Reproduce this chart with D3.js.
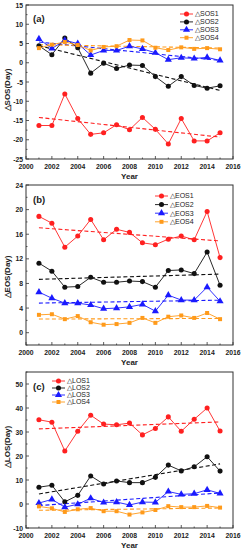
<!DOCTYPE html>
<html>
<head>
<meta charset="UTF-8" />
<style>
    body { margin: 0; background: #fff; }
    svg text { font-family: "Liberation Sans", Arial, sans-serif; }
    .tick-label { font-size: 6.8px; font-weight: bold; fill: #222; }
    .axis-title { font-size: 8px; font-weight: bold; fill: #222; }
    .legend-text { font-size: 7px; fill: #222; }
</style>
</head>
<body>
<div id="chart"></div>
<script src="https://d3js.org/d3.v7.min.js"></script>
<script>
    const years = d3.range(2001, 2016);
    const xTicks = [2000, 2002, 2004, 2006, 2008, 2010, 2012, 2014, 2016];

    // panel (a)
    const sos1 = [-16.3, -16.3, -8.1, -14.5, -18.6, -18.2, -16.1, -17.4, -14.2, -17.3, -21.1, -14.5, -20.3, -20.3, -18.2];
    const sos2 = [4.4, 2.1, 6.4, 3.9, -2.7, -0.1, -1.5, -0.6, -0.7, -3.6, -6.1, -3.6, -5.9, -6.6, -6.0];
    const sos3 = [6.2, 3.7, 5.8, 5.0, 2.0, 3.2, 3.2, 4.3, 3.6, 2.6, 0.8, 1.3, 1.1, 1.4, 0.6];
    const sos4 = [3.8, 4.7, 5.4, 4.6, 3.2, 4.1, 4.3, 5.9, 5.8, 3.9, 3.3, 4.0, 3.6, 3.8, 3.5];
    const sosTicks = [-25, -20, -15, -10, -5, 0, 5, 10, 15];

    // panel (b)
    const eos1 = [18.9, 17.8, 13.9, 15.7, 18.4, 15.1, 16.8, 16.3, 14.6, 14.3, 15.2, 15.7, 15.1, 19.7, 12.2];
    const eos2 = [11.3, 10.0, 7.4, 7.5, 9.0, 8.2, 8.2, 8.4, 8.3, 7.4, 10.1, 10.2, 9.6, 13.1, 7.7];
    const eos3 = [6.6, 5.6, 4.8, 4.8, 4.5, 3.9, 4.0, 4.2, 4.6, 3.5, 6.1, 5.3, 5.3, 7.4, 5.1];
    const eos4 = [2.9, 3.0, 2.2, 2.7, 1.7, 1.3, 1.4, 1.6, 2.4, 1.6, 2.6, 2.8, 2.4, 3.2, 2.2];
    const eosTicks = [0, 4, 8, 12, 16, 20, 24];

    // panel (c)
    const los1 = [35.1, 34.1, 22.1, 30.3, 37.0, 33.3, 33.0, 33.7, 28.8, 31.5, 36.3, 30.3, 35.3, 40.0, 30.4];
    const los2 = [7.0, 7.8, 0.9, 3.6, 11.7, 8.3, 9.6, 8.9, 8.9, 11.1, 16.2, 13.8, 15.5, 19.7, 13.7];
    const los3 = [0.4, 1.9, -1.3, -0.1, 2.4, 0.6, 0.8, -0.4, 0.8, 0.7, 5.2, 4.0, 4.3, 5.9, 4.4];
    const los4 = [-1.0, -1.8, -3.3, -2.2, -1.7, -3.0, -3.0, -4.4, -3.5, -2.5, -0.9, -1.3, -1.3, -0.8, -1.5];
    const losTicks = [-10, 0, 10, 20, 30, 40, 50];

    const colors = ['#ff2020', '#111111', '#1a1aff', '#ff9a1a'];
    const shapes = [d3.symbolCircle, d3.symbolCircle, d3.symbolTriangle, d3.symbolSquare];
    const shapeSize = [20, 20, 22, 16];

    const svg = d3.select('#chart').append('svg')
        .attr('width', 244)
        .attr('height', 550);

    const panels = [
        { tag: '(a)', name: 'SOS', series: [sos1, sos2, sos3, sos4], ticks: sosTicks, domain: [-25, 15],
          top: 5, bottom: 159, titleY: 90, legend: { x: 180, y: 14, dy: 7.9 }, labelY: 19 },
        { tag: '(b)', name: 'EOS', series: [eos1, eos2, eos3, eos4], ticks: eosTicks, domain: [-2, 24],
          top: 185, bottom: 345, titleY: 277, legend: { x: 155, y: 196, dy: 8.6 }, labelY: 200 },
        { tag: '(c)', name: 'LOS', series: [los1, los2, los3, los4], ticks: losTicks, domain: [-10, 55],
          top: 372, bottom: 528, titleY: 447, legend: { x: 52, y: 381, dy: 7 }, labelY: 387 }
    ];

    const left = 26, right = 233;

    // least-squares trend of a series against the years
    function fit(vals) {
        const mx = d3.mean(years), my = d3.mean(vals);
        const b = d3.sum(years, (yr, i) => (yr - mx) * (vals[i] - my)) / d3.sum(years, yr => (yr - mx) ** 2);
        return yr => my + b * (yr - mx);
    }

    panels.forEach(p => {
        const x = d3.scaleLinear().domain([2000, 2016]).range([left, right]);
        const y = d3.scaleLinear().domain(p.domain).range([p.bottom, p.top]);
        const g = svg.append('g');

        g.append('rect')
            .attr('x', left).attr('y', p.top)
            .attr('width', right - left).attr('height', p.bottom - p.top)
            .attr('fill', 'none').attr('stroke', '#333').attr('stroke-width', 1);

        // x ticks point inward, minor on odd years
        d3.range(2000, 2017).forEach(yr => {
            const major = yr % 2 === 0;
            g.append('line')
                .attr('x1', x(yr)).attr('x2', x(yr))
                .attr('y1', p.bottom).attr('y2', p.bottom - (major ? 3 : 1.5))
                .attr('stroke', '#333').attr('stroke-width', 0.8);
        });
        xTicks.forEach(yr => {
            g.append('text').attr('class', 'tick-label')
                .attr('x', x(yr)).attr('y', p.bottom + 9.5)
                .attr('text-anchor', 'middle').text(yr);
        });

        const step = p.ticks[1] - p.ticks[0];
        d3.range(p.domain[0], p.domain[1] + 0.001, step / 2).forEach(v => {
            const major = p.ticks.includes(v);
            g.append('line')
                .attr('x1', left).attr('x2', left + (major ? 3 : 1.5))
                .attr('y1', y(v)).attr('y2', y(v))
                .attr('stroke', '#333').attr('stroke-width', 0.8);
        });
        p.ticks.forEach(v => {
            g.append('text').attr('class', 'tick-label')
                .attr('x', left - 3).attr('y', y(v) + 2.5)
                .attr('text-anchor', 'end').text(v);
        });

        g.append('text').attr('class', 'axis-title')
            .attr('x', (left + right) / 2).attr('y', p.bottom + 20)
            .attr('text-anchor', 'middle').text('Year');

        g.append('text').attr('class', 'axis-title')
            .attr('transform', `translate(9.5,${p.titleY}) rotate(-90)`)
            .attr('text-anchor', 'middle').style('font-size', '8px')
            .text('\u25B3' + p.name + '(Day)');

        g.append('text').attr('class', 'axis-title')
            .attr('x', 33).attr('y', p.labelY + 3)
            .style('font-size', '9.5px').text(p.tag);

        const line = d3.line().x((d, i) => x(years[i])).y(d => y(d));

        p.series.forEach((vals, k) => {
            const f = fit(vals);
            g.append('line')
                .attr('x1', x(2001)).attr('x2', x(2015))
                .attr('y1', y(f(2001))).attr('y2', y(f(2015)))
                .attr('stroke', colors[k]).attr('stroke-width', 1.1)
                .attr('stroke-dasharray', '4,2.5');
        });

        p.series.forEach((vals, k) => {
            g.append('path').datum(vals)
                .attr('d', line)
                .attr('fill', 'none').attr('stroke', colors[k]).attr('stroke-width', 0.9);
            g.selectAll(null).data(vals).enter().append('path')
                .attr('transform', (d, i) => `translate(${x(years[i])},${y(d)})`)
                .attr('d', d3.symbol().type(shapes[k]).size(shapeSize[k]))
                .attr('fill', colors[k]);
        });

        p.series.forEach((vals, k) => {
            const ly = p.legend.y + k * p.legend.dy;
            g.append('line')
                .attr('x1', p.legend.x).attr('x2', p.legend.x + 13)
                .attr('y1', ly).attr('y2', ly)
                .attr('stroke', colors[k]).attr('stroke-width', 0.9);
            g.append('path')
                .attr('transform', `translate(${p.legend.x + 6.5},${ly})`)
                .attr('d', d3.symbol().type(shapes[k]).size(shapeSize[k]))
                .attr('fill', colors[k]);
            g.append('text').attr('class', 'legend-text')
                .attr('x', p.legend.x + 15).attr('y', ly + 2.4)
                .text('\u25B3' + p.name + (k + 1));
        });
    });
</script>
</body>
</html>
